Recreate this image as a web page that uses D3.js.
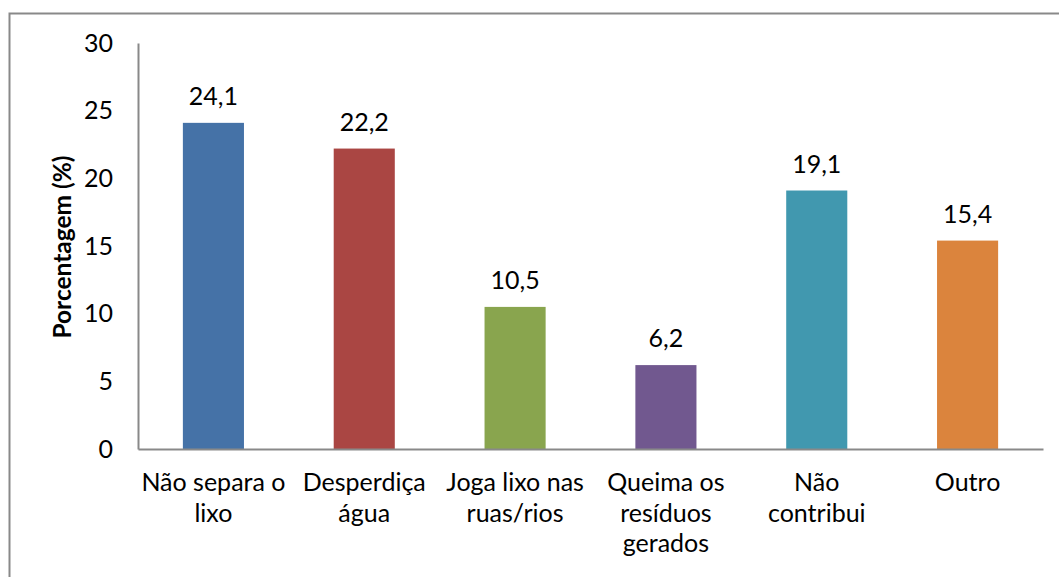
<!DOCTYPE html>
<html>
<head>
<meta charset="utf-8">
<script src="https://cdn.jsdelivr.net/npm/d3@7"></script>
<style>
  html, body { margin: 0; padding: 0; background: #fff; }
  svg text { font-family: Lato, "Open Sans", sans-serif; fill: #000; }
</style>
</head>
<body>
<div id="chart"></div>
<script>
const categories = [
	['Não separa o', 'lixo'],
	['Desperdiça', 'água'],
	['Joga lixo nas', 'ruas/rios'],
	['Queima os', 'resíduos', 'gerados'],
	['Não', 'contribui'],
	['Outro'],
];
const values = [24.1, 22.2, 10.5, 6.2, 19.1, 15.4];
const valueLabels = ['24,1', '22,2', '10,5', '6,2', '19,1', '15,4'];
const colors = ['#4572A7', '#AA4643', '#89A54E', '#71588F', '#4198AF', '#DB843D'];
const yTicks = [0, 5, 10, 15, 20, 25, 30];
const yTitle = 'Porcentagem (%)';

const width = 1059;
const height = 577;
const margin = { top: 43, right: 16, bottom: 128, left: 138 };
const fontSize = 25;

const svg = d3
	.select('#chart')
	.append('svg')
	.attr('width', width)
	.attr('height', height);

// outer chart border (only top/left visible in the crop)
svg.append('rect')
	.attr('x', 9.5)
	.attr('y', 13.5)
	.attr('width', width + 20)
	.attr('height', height + 20)
	.attr('fill', 'none')
	.attr('stroke', '#898989')
	.attr('stroke-width', 2);

const x = d3
	.scaleBand()
	.domain(d3.range(categories.length))
	.range([margin.left, width - margin.right])
	.paddingInner(0.595)
	.paddingOuter(0.2975);

const y = d3
	.scaleLinear()
	.domain([0, 30])
	.range([height - margin.bottom, margin.top]);

// bars
svg.selectAll('.bar')
	.data(values)
	.join('rect')
	.attr('class', 'bar')
	.attr('x', (d, i) => x(i))
	.attr('y', (d) => y(d))
	.attr('width', x.bandwidth())
	.attr('height', (d) => y(0) - y(d))
	.attr('fill', (d, i) => colors[i]);

// value labels
svg.selectAll('.val')
	.data(values)
	.join('text')
	.attr('class', 'val')
	.attr('x', (d, i) => x(i) + x.bandwidth() / 2)
	.attr('y', (d) => y(d) - 18)
	.attr('text-anchor', 'middle')
	.attr('font-size', fontSize)
	.text((d, i) => valueLabels[i]);

// y axis
const yAxis = svg
	.append('g')
	.attr('transform', `translate(${margin.left},0)`)
	.call(d3.axisLeft(y).tickValues(yTicks).tickSize(0).tickPadding(25));
yAxis.select('.domain').attr('stroke', '#898989').attr('stroke-width', 2);
yAxis.selectAll('text')
	.attr('font-size', fontSize)
	.style('font-family', 'Lato, sans-serif');

// x axis
const xAxis = svg
	.append('g')
	.attr('transform', `translate(0,${y(0)})`)
	.call(d3.axisBottom(x).tickSize(0).tickFormat(''));
xAxis.select('.domain').attr('stroke', '#898989').attr('stroke-width', 2);

// category labels (multi-line)
svg.selectAll('.cat')
	.data(categories)
	.join('text')
	.attr('class', 'cat')
	.attr('text-anchor', 'middle')
	.attr('font-size', fontSize)
	.attr('transform', (d, i) => `translate(${x(i) + x.bandwidth() / 2},${y(0) + 42})`)
	.selectAll('tspan')
	.data((d) => d)
	.join('tspan')
	.attr('x', 0)
	.attr('y', (d, i) => i * 30.5)
	.text((d) => d);

// y title
svg.append('text')
	.attr('transform', `translate(71,${(y(0) + y(30)) / 2 + 1}) rotate(-90)`)
	.attr('text-anchor', 'middle')
	.attr('font-size', 24.5)
	.attr('font-weight', 'bold')
	.text(yTitle);
</script>
</body>
</html>
